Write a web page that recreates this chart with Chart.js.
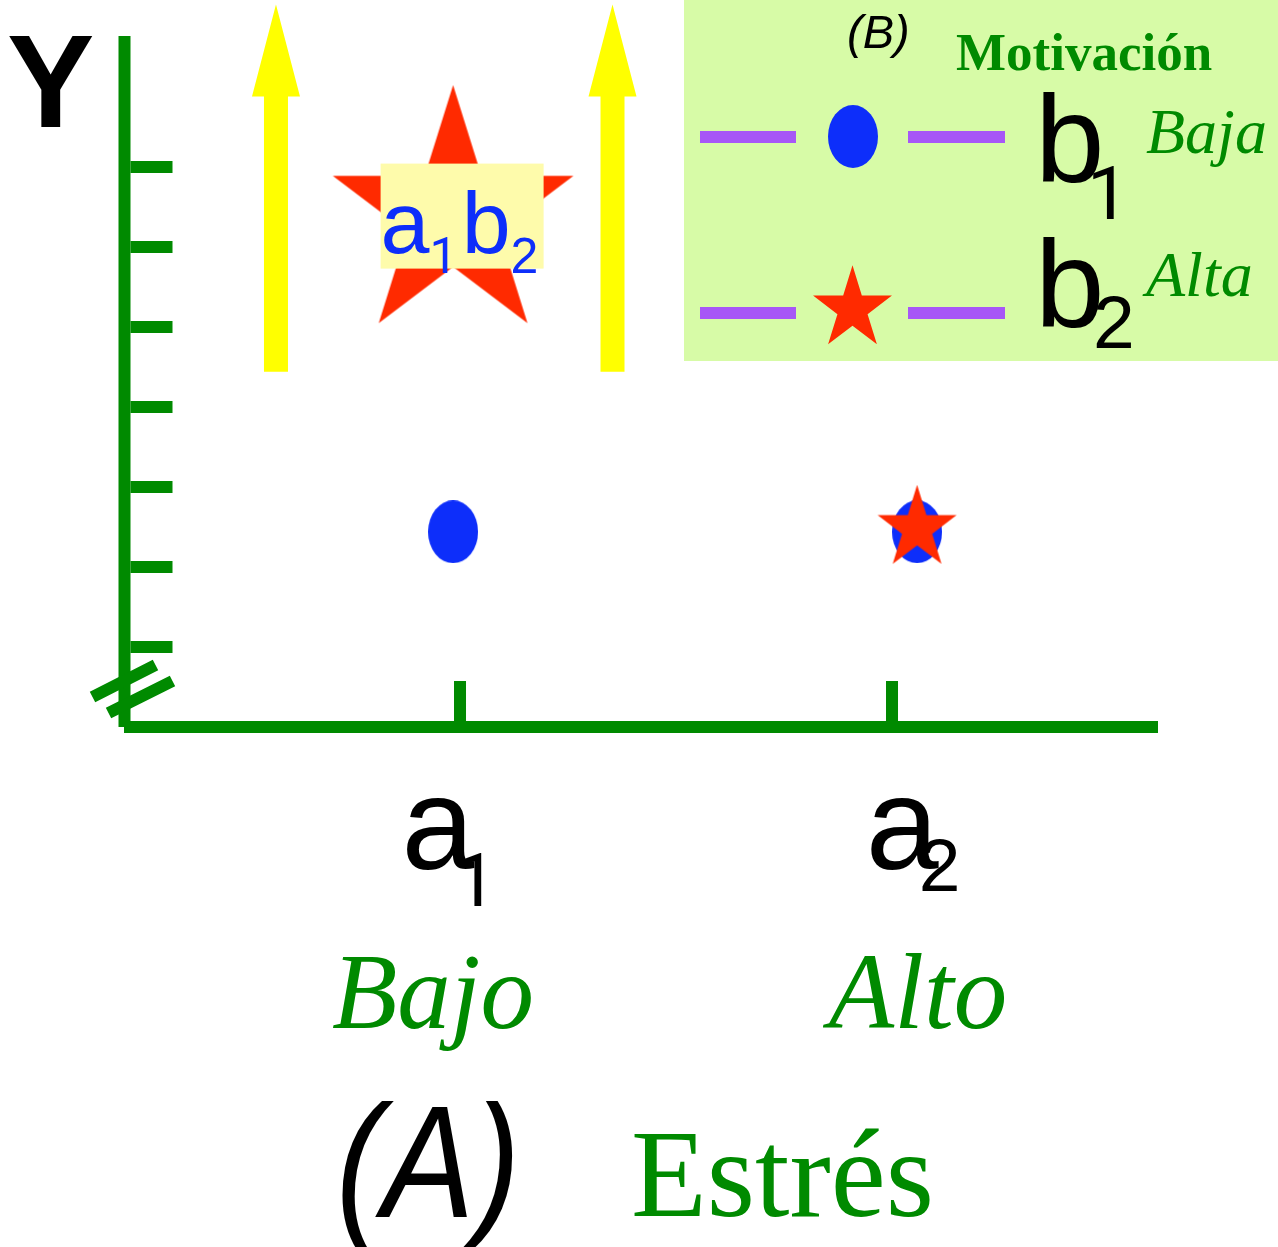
<!DOCTYPE html>
<html>
<head>
<meta charset="utf-8">
<title>Estrés y Motivación</title>
<script src="https://cdn.jsdelivr.net/npm/chart.js@4.4.1/dist/chart.umd.min.js"></script>
<style>
  html, body { margin: 0; padding: 0; background: #fff; }
  canvas { display: block; }
</style>
</head>
<body>
<canvas id="interaccion" width="1278" height="1247"></canvas>
<script>
// Factor A: Estrés
const estresLevels = ['a', 'a'];
const estresSubs = ['1', '2'];
const estresNames = ['Bajo', 'Alto'];
const estresTicks = [1, 2];
// where the cell means sit on the x scale
const cellX = [0.984, 2.058];

// Factor B: Motivación
const motivSubs = ['1', '2'];
const motivNames = ['Baja', 'Alta'];
const mediasB1 = [2.44, 2.44];
const mediasB2 = [6.38, 2.48];

// unlabeled marks on the y axis
const yTicks = [1, 2, 3, 4, 5, 6, 7];

// yellow arrows (x position, from, to)
const flechasX = [0.574, 1.353];
const flechaDesde = 4.44;
const flechaHasta = 9.03;

const VERDE = '#008a00';
const AZUL = '#0d2efa';
const ROJO = '#ff2a00';
const AMARILLO = '#ffff00';
const MORADO = '#a757f7';
const SANS = '"Liberation Sans", Arial, sans-serif';
const SERIF = '"Liberation Serif", "Times New Roman", serif';
// Liberation's "1" has a foot, Roboto's doesn't
const DIGIT = (d) => d === '1' ? 'Roboto, ' + SANS : SANS;

// point images
function starCanvas(rx, ry, color) {
  const c = document.createElement('canvas');
  c.width = Math.ceil(rx * 2);
  c.height = Math.ceil(ry * 2);
  const g = c.getContext('2d');
  g.translate(c.width / 2, c.height / 2);
  g.beginPath();
  for (let i = 0; i < 10; i++) {
    const r = i % 2 === 0 ? 1 : 0.382;
    const ang = -Math.PI / 2 + i * Math.PI / 5;
    const px = Math.cos(ang) * r * rx;
    const py = Math.sin(ang) * r * ry;
    if (i === 0) g.moveTo(px, py); else g.lineTo(px, py);
  }
  g.closePath();
  g.fillStyle = color;
  g.fill();
  return c;
}

function ellipseCanvas(w, h, color) {
  const c = document.createElement('canvas');
  c.width = w;
  c.height = h;
  const g = c.getContext('2d');
  g.beginPath();
  g.ellipse(w / 2, h / 2, w / 2, h / 2, 0, 0, Math.PI * 2);
  g.fillStyle = color;
  g.fill();
  return c;
}

const bigStar = starCanvas(126.5, 131.6, ROJO);
const smallStar = starCanvas(41.5, 43.7, ROJO);
const dot = ellipseCanvas(50, 63, AZUL);

// base letter + subscript, returns the x after the subscript
function subText(ctx, base, sub, x, y, size, subSize, subDrop, color) {
  ctx.fillStyle = color;
  ctx.font = size + 'px ' + SANS;
  ctx.fillText(base, x, y);
  const w = ctx.measureText(base).width;
  ctx.font = subSize + 'px ' + DIGIT(sub);
  ctx.fillText(sub, x + w, y + subDrop);
  return x + w + ctx.measureText(sub).width;
}

function arrow(ctx, x, yBottom, yTip) {
  const shaft = 12, head = 24, headLen = 92;
  ctx.beginPath();
  ctx.moveTo(x - shaft, yBottom);
  ctx.lineTo(x - shaft, yTip + headLen);
  ctx.lineTo(x - head, yTip + headLen);
  ctx.lineTo(x, yTip);
  ctx.lineTo(x + head, yTip + headLen);
  ctx.lineTo(x + shaft, yTip + headLen);
  ctx.lineTo(x + shaft, yBottom);
  ctx.closePath();
  ctx.fill();
}

// axes, ticks, axis break and arrows
const ejes = {
  id: 'ejes',
  beforeDatasetsDraw(chart) {
    const { ctx, chartArea: a, scales: { x, y } } = chart;
    ctx.save();
    ctx.strokeStyle = VERDE;
    ctx.lineWidth = 12;
    ctx.lineCap = 'butt';
    const ax = a.left + 0.5;
    const ay = a.bottom;
    ctx.beginPath();
    ctx.moveTo(ax, a.top);
    ctx.lineTo(ax, ay);
    ctx.moveTo(a.left, ay);
    ctx.lineTo(a.right, ay);
    ctx.stroke();

    ctx.beginPath();
    yTicks.forEach(v => {
      const py = y.getPixelForValue(v);
      ctx.moveTo(ax + 6, py);
      ctx.lineTo(ax + 48, py);
    });
    estresTicks.forEach(v => {
      const px = x.getPixelForValue(v);
      ctx.moveTo(px, ay - 6);
      ctx.lineTo(px, ay - 46);
    });
    // break marks
    ctx.moveTo(ax - 32, ay - 30);
    ctx.lineTo(ax + 31, ay - 62);
    ctx.moveTo(ax - 16, ay - 14);
    ctx.lineTo(ax + 48, ay - 46);
    ctx.stroke();

    ctx.fillStyle = AMARILLO;
    flechasX.forEach(v => {
      arrow(ctx, x.getPixelForValue(v), y.getPixelForValue(flechaDesde), y.getPixelForValue(flechaHasta));
    });
    ctx.restore();
  }
};

// cell label, axis labels and titles
const rotulos = {
  id: 'rotulos',
  afterDatasetsDraw(chart) {
    const { ctx, scales: { x } } = chart;
    const pt = chart.getDatasetMeta(0).data[0];
    ctx.save();
    ctx.textBaseline = 'alphabetic';

    // a1b2 tag over the big star
    const bx = pt.x - 72.5, by = pt.y - 53;
    ctx.fillStyle = '#fefbab';
    ctx.fillRect(bx, by, 163, 105);
    let cx = subText(ctx, 'a', '1', bx, by + 89, 88, 50, 20, AZUL);
    subText(ctx, 'b', '2', cx + 4, by + 89, 88, 50, 20, AZUL);

    // a1 / a2
    const subDrops = [37, 22];
    estresLevels.forEach((lv, i) => {
      const px = x.getPixelForValue(cellX[i]);
      const sub = estresSubs[i];
      ctx.font = '131px ' + SANS;
      const wa = ctx.measureText(lv).width;
      ctx.font = '75px ' + DIGIT(sub);
      const ws = ctx.measureText(sub).width;
      const left = px - (wa - 20 + ws) / 2 - 4;
      ctx.fillStyle = '#000';
      ctx.font = '131px ' + SANS;
      ctx.fillText(lv, left, 869);
      ctx.font = '75px ' + DIGIT(sub);
      ctx.fillText(sub, left + wa - 20, 869 + subDrops[i]);
    });

    // Bajo / Alto
    ctx.fillStyle = VERDE;
    ctx.font = 'italic 107px ' + SERIF;
    ctx.textAlign = 'center';
    ctx.fillText(estresNames[0], 433, 1028);
    ctx.fillText(estresNames[1], 918, 1028);
    ctx.textAlign = 'left';

    // (A) Estrés
    ctx.save();
    ctx.translate(336, 1217);
    ctx.scale(0.87, 1);
    ctx.fillStyle = '#000';
    ctx.font = 'italic 159px ' + SANS;
    ctx.fillText('(A)', 0, 0);
    ctx.restore();
    ctx.fillStyle = VERDE;
    ctx.font = '124px ' + SERIF;
    ctx.fillText('Estrés', 631, 1216);

    // Y
    ctx.fillStyle = '#000';
    ctx.font = 'bold 131px ' + SANS;
    ctx.fillText('Y', 7, 127);
    ctx.restore();
  }
};

// legend panel for factor B
const leyenda = {
  id: 'leyenda',
  afterDraw(chart) {
    const { ctx } = chart;
    ctx.save();
    ctx.fillStyle = '#d7fba7';
    ctx.fillRect(684, 0, 594, 361);

    ctx.fillStyle = '#000';
    ctx.font = 'italic 47px ' + SANS;
    ctx.fillText('(B)', 847, 48);
    ctx.fillStyle = VERDE;
    ctx.font = 'bold 53px ' + SERIF;
    ctx.fillText('Motivación', 956, 70);

    const rows = [
      { y: 137, img: dot, iy: 136.5, base: 182, drop: 37 },
      { y: 313, img: smallStar, iy: 309, base: 327, drop: 21 }
    ];
    rows.forEach((r, i) => {
      ctx.strokeStyle = MORADO;
      ctx.lineWidth = 12;
      ctx.beginPath();
      ctx.moveTo(700, r.y);
      ctx.lineTo(796, r.y);
      ctx.moveTo(908, r.y);
      ctx.lineTo(1005, r.y);
      ctx.stroke();
      const ix = i === 0 ? 853 : 852.5;
      ctx.drawImage(r.img, ix - r.img.width / 2, r.iy - r.img.height / 2);

      ctx.fillStyle = '#000';
      ctx.font = '125px ' + SANS;
      ctx.fillText('b', 1035, r.base);
      ctx.font = '75px ' + DIGIT(motivSubs[i]);
      ctx.fillText(motivSubs[i], i === 0 ? 1087 : 1093, r.base + r.drop);

      ctx.fillStyle = VERDE;
      ctx.font = 'italic 64px ' + SERIF;
      ctx.fillText(motivNames[i], 1146, i === 0 ? 153 : 296);
    });
    ctx.restore();
  }
};

const ctx = document.getElementById('interaccion').getContext('2d');
new Chart(ctx, {
  type: 'scatter',
  data: {
    datasets: [
      {
        label: 'b2 Alta',
        data: cellX.map((v, i) => ({ x: v, y: mediasB2[i] })),
        pointStyle: [bigStar, smallStar],
        pointRadius: 20,
        showLine: false,
        order: 0
      },
      {
        label: 'b1 Baja',
        data: cellX.map((v, i) => ({ x: v, y: mediasB1[i] })),
        pointStyle: dot,
        pointRadius: 20,
        showLine: false,
        order: 1
      }
    ]
  },
  options: {
    responsive: false,
    animation: false,
    events: [],
    layout: { padding: { left: 124, right: 120, top: 36, bottom: 520 } },
    scales: {
      x: { type: 'linear', min: 0.2222, max: 2.6157, display: false },
      y: { type: 'linear', min: 0, max: 8.6375, display: false }
    },
    plugins: {
      legend: { display: false },
      tooltip: { enabled: false }
    }
  },
  plugins: [ejes, rotulos, leyenda]
});
</script>
</body>
</html>
